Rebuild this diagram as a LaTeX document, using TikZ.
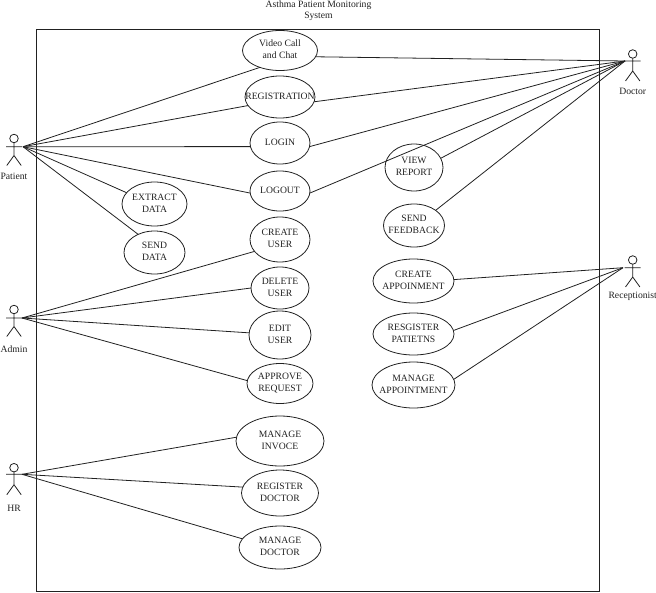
\documentclass[tikz,border=0pt]{standalone}
\usepackage{fontspec}
\setmainfont{Liberation Serif}
\usetikzlibrary{shapes.geometric}
\definecolor{ink}{gray}{0.13}
\newcommand{\uctext}[1]{\raisebox{-3.2pt}{\smash{\makebox[0pt]{\begin{tabular}{@{}c@{}}#1\end{tabular}}}}}
\newcommand{\stickman}[6]{% name, x, head y, arm y, label y, label
  \node[head] (#1head) at (#2,#3) {};
  \coordinate (#1neck) at (#2,#3+4.4);
  \coordinate (#1hip) at (#2,#3+17);
  \coordinate (#1la) at (#2-8,#4);
  \coordinate (#1ra) at (#2+8,#4);
  \coordinate (#1ll) at (#2-7.2,#3+27);
  \coordinate (#1rl) at (#2+7.2,#3+27);
  \draw[conn] (#1neck) -- (#1hip) (#1la) -- (#1ra) (#1ll) -- (#1hip) -- (#1rl);
  \node[actorlabel] (#1label) at (#2,#5) {#6};
}
\tikzset{
  conn/.style={draw=ink,line width=0.6pt},
  uc/.style 2 args={ellipse,draw=ink,line width=0.6pt,inner sep=0pt,outer sep=0pt,minimum width=#1*1.5pt,minimum height=#2*1.5pt,text=ink},
  head/.style={circle,draw=ink,line width=0.6pt,inner sep=0pt,minimum size=6.4pt},
  actorlabel/.style={inner sep=0pt,text=ink},
  frame/.style={draw=ink,line width=0.65pt},
  titletext/.style={inner sep=0pt,align=center,text=ink},
  every node/.append style={font=\fontsize{7.25pt}{8.8pt}\selectfont}
}
\begin{document}
\begin{tikzpicture}[x=0.75pt,y=-0.75pt]
\useasboundingbox (0,0) rectangle (656,592);
\node[titletext] (title) at (318.5,10.8) {Asthma Patient Monitoring\\System};
\draw[frame] (36.5,29) rectangle (599,591);

\node[uc={37.5}{20}] (video) at (280,50.5) {\uctext{Video Call\\and Chat}};
\node[uc={35}{21}] (reg) at (280,97) {\uctext{REGISTRATION}};
\node[uc={30}{21}] (login) at (280,143) {\uctext{LOGIN}};
\node[uc={30}{20}] (logout) at (280,191) {\uctext{LOGOUT}};
\node[uc={32.5}{22}] (extract) at (154.5,204) {\uctext{EXTRACT\\DATA}};
\node[uc={30.5}{21.5}] (send) at (154.5,252.5) {\uctext{SEND\\DATA}};
\node[uc={30}{22.5}] (create) at (280,239.5) {\uctext{CREATE\\USER}};
\node[uc={29}{21}] (delete) at (280,288) {\uctext{DELETE\\USER}};
\node[uc={31}{24}] (edit) at (280,335) {\uctext{EDIT\\USER}};
\node[uc={33}{20}] (approve) at (280,383.5) {\uctext{APPROVE\\REQUEST}};
\node[uc={44}{25}] (invoice) at (280,441) {\uctext{MANAGE\\INVOCE}};
\node[uc={38.5}{23}] (regdoc) at (280,493) {\uctext{REGISTER\\DOCTOR}};
\node[uc={41}{21.5}] (mandoc) at (280,547.5) {\uctext{MANAGE\\DOCTOR}};
\node[uc={29}{23.5}] (view) at (414,167.5) {\uctext{VIEW\\REPORT}};
\node[uc={30.5}{21.5}] (feedback) at (414,225.5) {\uctext{SEND\\FEEDBACK}};
\node[uc={40.5}{22}] (capp) at (413.5,281) {\uctext{CREATE\\APPOINMENT}};
\node[uc={40.5}{21}] (rpat) at (413.5,334) {\uctext{RESGISTER\\PATIETNS}};
\node[uc={41.5}{23}] (mapp) at (413.5,385) {\uctext{MANAGE\\APPOINTMENT}};

\stickman{pat}{14}{138.5}{146.7}{176.4}{Patient}
\stickman{adm}{14}{309.5}{318}{349}{Admin}
\stickman{hr}{14}{467.7}{474.3}{508.6}{HR}
\stickman{doc}{632.7}{54}{61}{91}{Doctor}
\stickman{rec}{632.7}{260}{267.7}{296.3}{Receptionist}

\coordinate (pathand) at (23,146.7);
\coordinate (admhand) at (22,318);
\coordinate (hrhand) at (22,474.3);
\coordinate (dochand) at (625,61);
\coordinate (rechand) at (623,267.7);

\draw[conn] (pathand) -- (video.220);
\draw[conn] (pathand) -- (reg.195);
\draw[conn] (pathand) -- (login.187);
\draw[conn] (pathand) -- (logout.184);
\draw[conn] (pathand) -- (extract.158);
\draw[conn] (pathand) -- (send.132);
\draw[conn] (dochand) -- (video.-10);
\draw[conn] (dochand) -- (reg.-8);
\draw[conn] (dochand) -- (login.-7);
\draw[conn] (dochand) -- (logout.-4);
\draw[conn] (dochand) -- (view.19.4);
\draw[conn] (dochand) -- (feedback.35);
\draw[conn] (rechand) -- (capp.2.4);
\draw[conn] (rechand) -- (rpat.5.6);
\draw[conn] (rechand) -- (mapp.8);
\draw[conn] (admhand) -- (create.205.6);
\draw[conn] (admhand) -- (delete.180);
\draw[conn] (admhand) -- (edit.176);
\draw[conn] (admhand) -- (approve.175);
\draw[conn] (hrhand) -- (invoice.175);
\draw[conn] (hrhand) -- (regdoc.171);
\draw[conn] (hrhand) -- (mandoc.167);
\end{tikzpicture}
\end{document}
